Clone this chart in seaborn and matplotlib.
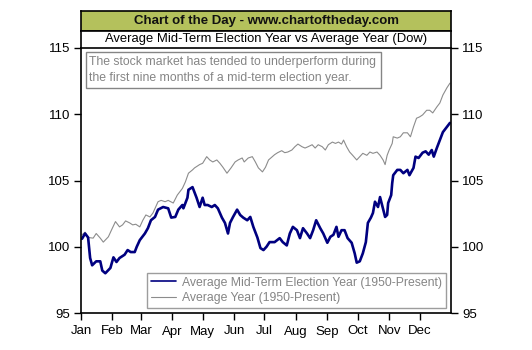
import matplotlib
matplotlib.use("Agg")
import matplotlib.pyplot as plt
from matplotlib.patches import Rectangle
from matplotlib.lines import Line2D
import seaborn as sns
import pandas as pd

# Day of year and index level (start of year = 100) for each series
midterm_day = [1, 4, 7, 9, 11, 15, 19, 21, 24, 29, 32, 35, 38, 43, 46, 49, 53, 55, 58, 63,
               66, 69, 73, 76, 81, 86, 89, 93, 96, 100, 101, 105, 106, 110, 111, 114, 117, 120,
               122, 125, 129, 132, 135, 139, 142, 145, 147, 150, 154, 157, 160, 164, 167, 170,
               174, 177, 180, 183, 186, 191, 196, 199, 203, 206, 209, 213, 216, 219, 223, 226,
               229, 232, 236, 239, 243, 246, 249, 252, 254, 257, 260, 263, 267, 270, 272, 275,
               278, 281, 283, 286, 288, 290, 293, 295, 297, 300, 302, 303, 306, 307, 308, 312,
               315, 318, 322, 324, 328, 330, 333, 337, 340, 343, 346, 348, 351, 354, 357, 361, 364]
midterm_val = [100.6, 101.0, 100.7, 99.15, 98.6, 98.9, 98.9, 98.2, 98.0, 98.4, 99.2, 98.85,
               99.15, 99.4, 99.75, 99.6, 99.6, 100.0, 100.5, 101.0, 101.4, 102.0, 102.25, 102.8,
               103.0, 102.9, 102.2, 102.25, 102.8, 103.15, 102.9, 103.7, 104.3, 104.5, 104.3,
               103.7, 103.0, 103.7, 103.15, 103.15, 103.0, 103.15, 102.9, 102.2, 101.8, 101.0,
               101.8, 102.25, 102.8, 102.4, 102.2, 102.0, 102.25, 101.5, 100.7, 99.9, 99.75,
               100.0, 100.35, 100.35, 100.65, 100.35, 100.1, 101.0, 101.5, 101.25, 100.65,
               101.4, 101.0, 100.65, 101.25, 102.0, 101.4, 101.0, 100.3, 100.75, 100.9, 101.5,
               100.75, 101.25, 101.25, 100.65, 100.3, 99.5, 98.8, 98.9, 99.5, 100.35, 101.8,
               102.2, 102.55, 103.4, 103.0, 103.75, 103.15, 102.25, 102.4, 103.3, 103.9, 104.8,
               105.4, 105.8, 105.8, 105.55, 105.8, 105.4, 105.95, 106.8, 106.7, 107.1, 107.2,
               106.95, 107.3, 106.8, 107.45, 108.05, 108.65, 109.05, 109.35]

average_day = [1, 4, 7, 12, 15, 19, 22, 27, 30, 34, 38, 41, 44, 48, 51, 54, 58, 61, 64, 68,
               71, 76, 79, 83, 86, 91, 95, 100, 103, 106, 110, 112, 117, 120, 124, 127, 130, 134,
               137, 140, 144, 148, 152, 155, 159, 161, 165, 169, 172, 175, 179, 182, 185, 191,
               194, 198, 201, 204, 208, 211, 214, 218, 221, 224, 228, 231, 234, 238, 241, 244,
               248, 251, 254, 257, 259, 262, 265, 268, 272, 275, 278, 282, 285, 288, 292, 295,
               298, 300, 302, 304, 307, 308, 312, 315, 318, 322, 325, 328, 331, 334, 337, 341,
               344, 347, 351, 354, 357, 361, 364]
average_val = [100.9, 101.1, 100.7, 100.65, 101.0, 100.65, 100.35, 100.75, 101.25, 101.9,
               101.5, 101.65, 101.95, 101.8, 101.65, 101.7, 101.5, 102.0, 102.4, 102.25, 102.55,
               103.4, 103.5, 103.4, 103.5, 103.3, 103.9, 104.4, 104.9, 105.55, 105.8, 105.95,
               106.2, 106.3, 106.8, 106.55, 106.4, 106.55, 106.3, 106.0, 105.55, 105.95, 106.4,
               106.55, 106.7, 106.4, 106.7, 106.8, 106.4, 105.95, 105.65, 106.0, 106.55, 106.95,
               107.1, 107.25, 107.1, 107.15, 107.3, 107.55, 107.75, 107.55, 107.45, 107.55,
               107.7, 107.45, 107.7, 107.55, 107.3, 107.7, 107.9, 107.8, 107.9, 107.75, 108.05,
               107.55, 107.15, 106.9, 106.55, 106.8, 107.05, 106.9, 107.15, 107.05, 107.15,
               106.9, 106.55, 106.2, 106.9, 107.3, 107.8, 108.3, 108.2, 108.3, 108.6, 108.6,
               108.3, 109.05, 109.7, 109.8, 109.95, 110.3, 110.3, 110.1, 110.55, 110.85, 111.45,
               112.0, 112.35]

month_starts = [0, 31, 59, 90, 120, 151, 181, 212, 243, 273, 304, 334]
month_labels = ["Jan", "Feb", "Mar", "Apr", "May", "Jun", "Jul", "Aug", "Sep", "Oct", "Nov", "Dec"]
y_ticks = [95, 100, 105, 110, 115]

label_mid = "Average Mid-Term Election Year (1950-Present)"
label_avg = "Average Year (1950-Present)"
header = "Chart of the Day - www.chartoftheday.com"
subtitle = "Average Mid-Term Election Year vs Average Year (Dow)"
note = ["The stock market has tended to underperform during",
        "the first nine months of a mid-term election year."]

NAVY = "#000080"
GRAY = "#8c8c8c"
TXT_GRAY = "#858585"

sns.set_style("white")
plt.rcParams["font.family"] = ["Liberation Sans", "DejaVu Sans"]

W, H = 532, 350
fig = plt.figure(figsize=(W / 100, H / 100), dpi=100)

def fx(px):
    return px / W

def fy(py):
    return 1 - py / H

L, R, T, B = 81, 451, 48, 313
ax = fig.add_axes([fx(L), fy(B), fx(R - L), (B - T) / H])

df_mid = pd.DataFrame({"day": midterm_day, "value": midterm_val})
df_avg = pd.DataFrame({"day": average_day, "value": average_val})
sns.lineplot(data=df_avg, x="day", y="value", ax=ax, color=GRAY, linewidth=0.8)
sns.lineplot(data=df_mid, x="day", y="value", ax=ax, color=NAVY, linewidth=1.9)

ax.set_xlim(0, 365)
ax.set_ylim(95, 115)
ax.set_xlabel("")
ax.set_ylabel("")
ax.set_xticks(month_starts)
ax.set_xticklabels(month_labels)
ax.set_yticks(y_ticks)
ax.set_yticklabels([str(t) for t in y_ticks])
ax.tick_params(axis="both", which="both", direction="out", length=5, width=1,
               color="black", labelsize=9.5, labelcolor="black")
ax.tick_params(axis="y", left=True, right=True, labelleft=True, labelright=True, pad=3)
ax.tick_params(axis="x", bottom=True, pad=4)
for s in ax.spines.values():
    s.set_color("black")
    s.set_linewidth(1.2)
ax.spines["top"].set_visible(False)

# Note box in the upper left of the plot
x0 = (86 - L) / (R - L)
x1 = (381 - L) / (R - L)
y0 = (B - 88) / (B - T)
y1 = (B - 52) / (B - T)
ax.add_patch(Rectangle((x0, y0), x1 - x0, y1 - y0, transform=ax.transAxes,
                       facecolor="white", edgecolor=TXT_GRAY, linewidth=1.0, zorder=5))
for i, line in enumerate(note):
    ax.text((89 - L) / (R - L), (B - (62 + 16.5 * i)) / (B - T), line, transform=ax.transAxes,
            ha="left", va="center", fontsize=8.8, color=TXT_GRAY, zorder=6)

# Legend
handles = [Line2D([], [], color=NAVY, linewidth=1.2),
           Line2D([], [], color=GRAY, linewidth=0.8)]
leg = ax.legend(handles, [label_mid, label_avg], loc="lower right",
                bbox_to_anchor=((446 - L) / (R - L), (B - 308) / (B - T)),
                borderaxespad=0, frameon=True, fancybox=False, fontsize=8.8,
                handlelength=2.0, handletextpad=0.55, labelspacing=0.3,
                borderpad=0.3, labelcolor=TXT_GRAY)
leg.get_frame().set_edgecolor(TXT_GRAY)
leg.get_frame().set_linewidth(1.0)

# Header bands above the plot
hdr = fig.add_axes([fx(L), fy(30.5), fx(R - L), 19.5 / H])
hdr.set_facecolor("#b4c15c")
hdr.set_xticks([])
hdr.set_yticks([])
for s in hdr.spines.values():
    s.set_color("black")
    s.set_linewidth(1.2)
hdr.text(0.5, 0.5, header, ha="center", va="center", fontsize=9.5,
         fontweight="bold", color="#111111", transform=hdr.transAxes)

sub = fig.add_axes([fx(L), fy(T), fx(R - L), (T - 30.5) / H])
sub.set_facecolor("white")
sub.set_xticks([])
sub.set_yticks([])
for s in sub.spines.values():
    s.set_color("black")
    s.set_linewidth(1.2)
sub.text(0.5, 0.5, subtitle, ha="center", va="center", fontsize=9.35,
         color="black", transform=sub.transAxes)

fig.savefig("out.png", dpi=100)
